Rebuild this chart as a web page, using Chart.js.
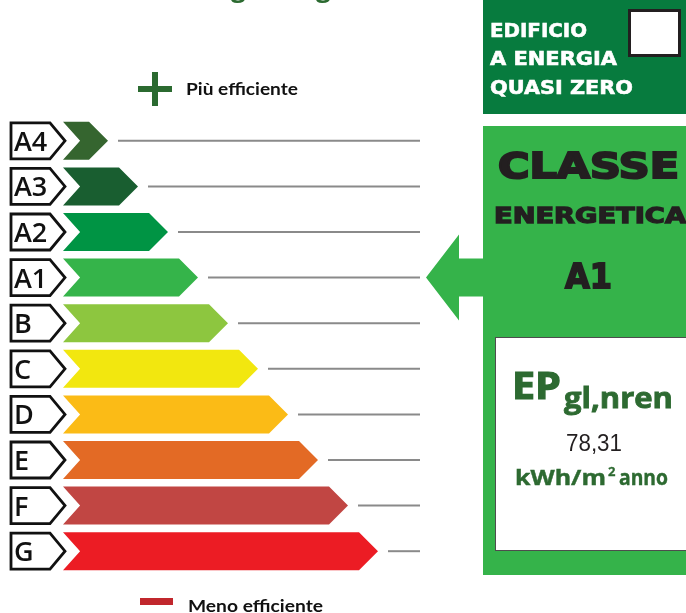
<!DOCTYPE html>
<html>
<head>
<meta charset="utf-8">
<script src="https://cdn.jsdelivr.net/npm/chart.js@4"></script>
<style>
  body { margin: 0; background: #fff; }
  #wrap { position: relative; width: 686px; height: 613px; overflow: hidden; }
  #chart { position: absolute; left: 0; top: 0; }
  #deco { position: absolute; left: 0; top: 0; pointer-events: none; }
</style>
</head>
<body>
<div id="wrap">
  <canvas id="chart" width="686" height="613"></canvas>
  <svg id="deco" width="686" height="613" xmlns="http://www.w3.org/2000/svg">
    <!-- cut title, only the descenders show -->
    <text x="12" y="-3" font-family="Open Sans" font-weight="700" font-size="26" fill="#2b6a30">Prestazione energetica globale</text>

    <rect x="152" y="72" width="6" height="34" fill="#2b6a30"/>
    <rect x="138" y="86" width="34" height="6" fill="#2b6a30"/>
    <text x="186" y="95" font-family="Lato" font-weight="700" font-size="17" fill="#111" textLength="112" lengthAdjust="spacingAndGlyphs">Più efficiente</text>

    <rect x="140" y="598" width="33" height="7" fill="#c1272d"/>
    <text x="188" y="612" font-family="Lato" font-weight="700" font-size="17" fill="#111" textLength="135" lengthAdjust="spacingAndGlyphs">Meno efficiente</text>

    <rect x="483" y="0" width="203" height="114" fill="#077b3e"/>
    <rect x="629.5" y="10.5" width="50" height="45" fill="#fff" stroke="#231f20" stroke-width="3"/>
    <g font-family="DejaVu Sans" font-weight="700" font-size="20" fill="#fff" stroke="#fff" stroke-width="0.6">
      <text x="490" y="37" textLength="97" lengthAdjust="spacingAndGlyphs">EDIFICIO</text>
      <text x="490" y="65" textLength="127" lengthAdjust="spacingAndGlyphs">A ENERGIA</text>
      <text x="490" y="94" textLength="143" lengthAdjust="spacingAndGlyphs">QUASI ZERO</text>
    </g>

    <rect x="483" y="126" width="203" height="449" fill="#35b34a"/>
    <g font-family="DejaVu Sans" font-weight="700" fill="#231f20" stroke="#231f20">
      <text x="498" y="178" font-size="36" stroke-width="2.2" textLength="181" lengthAdjust="spacingAndGlyphs">CLASSE</text>
      <text x="494" y="223" font-size="21" stroke-width="1.3" textLength="192" lengthAdjust="spacingAndGlyphs">ENERGETICA</text>
      <text id="clsText" x="565" y="288" font-size="34" stroke-width="1.8" textLength="47" lengthAdjust="spacingAndGlyphs"></text>
    </g>

    <rect x="495.5" y="337.5" width="200" height="213" fill="#fff" stroke="#4d4d4d" stroke-width="1"/>
    <g font-family="Open Sans" font-weight="700" fill="#2d6a31" stroke="#2d6a31">
      <text x="512" y="399" font-size="37" stroke-width="1.2" textLength="49" lengthAdjust="spacingAndGlyphs">EP</text>
      <text x="564" y="408" font-size="28" stroke-width="0.8" textLength="109" lengthAdjust="spacingAndGlyphs">gl,nren</text>
      <text x="515" y="485" font-size="21" stroke-width="0.4" textLength="91" lengthAdjust="spacingAndGlyphs">kWh/m</text>
      <text x="608" y="476" font-size="13" stroke-width="0.3">2</text>
      <text x="619" y="485" font-size="21" stroke-width="0.4" textLength="49" lengthAdjust="spacingAndGlyphs">anno</text>
    </g>
    <text id="epText" x="566" y="451" font-family="Liberation Sans" font-size="23" fill="#231f20" textLength="56" lengthAdjust="spacingAndGlyphs"></text>
  </svg>
</div>
<script>
const classes = ['A4', 'A3', 'A2', 'A1', 'B', 'C', 'D', 'E', 'F', 'G']
const barLengths = [1.5, 2.5, 3.5, 4.5, 5.5, 6.5, 7.5, 8.5, 9.5, 10.5]
const classColors = ['#35652f', '#195e30', '#009444', '#35b44a', '#8dc63f', '#f2e70f', '#fbbb16', '#e36a25', '#c14643', '#ec1c24']
const currentClass = 'A1'
const epValue = '78,31'

document.getElementById('clsText').textContent = currentClass
document.getElementById('epText').textContent = epValue

const energyLabel = {
  id: 'energyLabel',
  beforeDatasetDraw() {
    // bars are drawn as arrows below
    return false
  },
  afterDatasetsDraw(chart) {
    const ctx = chart.ctx
    const area = chart.chartArea
    const meta = chart.getDatasetMeta(0)
    ctx.save()
    meta.data.forEach((bar, i) => {
      const cy = bar.y
      const h = bar.height
      const top = cy - h / 2
      const bottom = cy + h / 2
      const x0 = bar.base
      const tip = bar.x
      const notch = h * 0.45

      // class tag on the left
      ctx.beginPath()
      ctx.moveTo(11, top + 1)
      ctx.lineTo(x0 - 13, top + 1)
      ctx.lineTo(x0 + 2, cy)
      ctx.lineTo(x0 - 13, bottom - 1)
      ctx.lineTo(11, bottom - 1)
      ctx.closePath()
      ctx.fillStyle = '#fff'
      ctx.fill()
      ctx.lineWidth = 2.8
      ctx.strokeStyle = '#111'
      ctx.stroke()
      ctx.fillStyle = '#111'
      ctx.font = '600 27px "Open Sans"'
      ctx.textBaseline = 'alphabetic'
      ctx.fillText(chart.data.labels[i], 14, cy + 10)

      // the coloured arrow
      ctx.beginPath()
      ctx.moveTo(x0, top)
      ctx.lineTo(tip - h / 2, top)
      ctx.lineTo(tip, cy)
      ctx.lineTo(tip - h / 2, bottom)
      ctx.lineTo(x0, bottom)
      ctx.lineTo(x0 + notch, cy)
      ctx.closePath()
      ctx.fillStyle = classColors[i]
      ctx.fill()

      // grey guide line
      ctx.beginPath()
      ctx.moveTo(tip + 10, cy)
      ctx.lineTo(area.right, cy)
      ctx.lineWidth = 2
      ctx.strokeStyle = '#8a8a8a'
      ctx.stroke()
    })

    // pointer to the current class
    const k = chart.data.labels.indexOf(currentClass)
    if (k >= 0) {
      const cy = meta.data[k].y
      const hx = area.right + 6
      ctx.beginPath()
      ctx.moveTo(hx, cy)
      ctx.lineTo(hx + 33, cy - 43)
      ctx.lineTo(hx + 33, cy - 19)
      ctx.lineTo(area.right + 68, cy - 19)
      ctx.lineTo(area.right + 68, cy + 19)
      ctx.lineTo(hx + 33, cy + 19)
      ctx.lineTo(hx + 33, cy + 43)
      ctx.closePath()
      ctx.fillStyle = '#35b34a'
      ctx.fill()
    }
    ctx.restore()
  }
}

const ctx = document.getElementById('chart')
const chart = new Chart(ctx, {
  type: 'bar',
  data: {
    labels: classes,
    datasets: [{ data: barLengths, backgroundColor: classColors }]
  },
  options: {
    indexAxis: 'y',
    responsive: false,
    animation: false,
    layout: { padding: { left: 63, right: 266, top: 118, bottom: 39 } },
    datasets: { bar: { barPercentage: 0.833, categoryPercentage: 1 } },
    scales: {
      x: { type: 'linear', min: 0, max: 11.9, display: false },
      y: { display: false }
    },
    plugins: { legend: { display: false }, tooltip: { enabled: false } },
    events: []
  },
  plugins: [energyLabel]
})
</script>
</body>
</html>
